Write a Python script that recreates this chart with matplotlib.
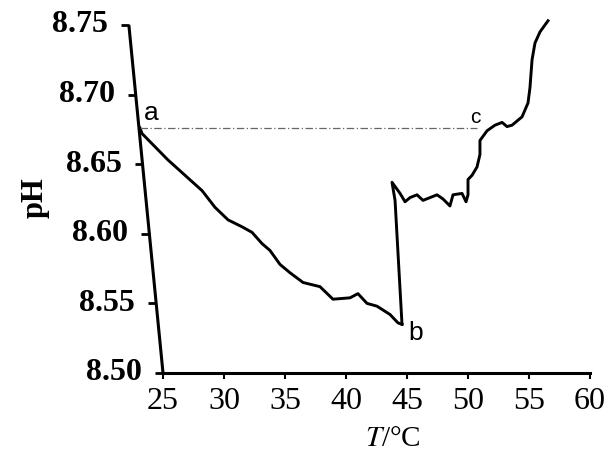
import matplotlib
matplotlib.use("Agg")
import matplotlib.pyplot as plt
import numpy as np

plt.rcParams['mathtext.fontset'] = 'stix'

# cooling branch a -> b
temp_down = [23.11, 23.28, 25.41, 28.20, 29.26, 30.33, 31.48, 32.30, 33.11, 33.77,
             34.59, 35.41, 36.48, 37.87, 38.93, 40.33, 40.98, 41.72, 42.54, 43.61,
             44.26, 44.59]
ph_down = [8.676, 8.672, 8.653, 8.631, 8.619, 8.610, 8.605, 8.601, 8.593, 8.588,
           8.578, 8.572, 8.565, 8.562, 8.553, 8.554, 8.557, 8.550, 8.548, 8.542,
           8.536, 8.535]

# jump after b and the rising branch past c
temp_up = [44.59, 44.02, 43.77, 44.43, 44.84, 45.25, 45.82, 46.31, 46.89, 47.46,
           47.95, 48.52, 48.77, 49.51, 49.84, 50.00, 50.00, 50.33, 50.74, 50.98,
           50.98, 51.56, 52.21, 52.79, 53.20, 53.61, 54.43, 54.92, 55.08, 55.25,
           55.49, 55.90, 56.31, 56.56]
ph_up = [8.535, 8.624, 8.637, 8.629, 8.623, 8.626, 8.628, 8.624, 8.626, 8.628,
         8.625, 8.620, 8.628, 8.629, 8.623, 8.628, 8.639, 8.642, 8.648, 8.657,
         8.667, 8.674, 8.678, 8.680, 8.677, 8.678, 8.684, 8.694, 8.705, 8.725,
         8.737, 8.745, 8.750, 8.753]

x_ticks = [25, 30, 35, 40, 45, 50, 55, 60]
y_ticks = [8.50, 8.55, 8.60, 8.65, 8.70, 8.75]
y_labels = ['8.50', '8.55', '8.60', '8.65', '8.70', '8.75']

# point labels
ph_a = 8.676
temp_a = 23.11
temp_c = 50.7
ph_b = 8.535
temp_b = 44.59

serif = 'Liberation Serif'

fig = plt.figure(figsize=(6.11, 4.58), dpi=100)
ax = fig.add_axes([0.2069, 0.1856, 0.7707, 0.7751])
ax.set_xlim(22, 60.6)
ax.set_ylim(8.50, 8.755)

ax.plot(temp_down, ph_down, color='black', lw=2.1, solid_joinstyle='round')
ax.plot(temp_up, ph_up, color='black', lw=2.1, solid_joinstyle='round')
ax.hlines(ph_a, temp_a, temp_c, colors='#666666', lw=0.9, linestyles=(0, (6, 2, 1, 2)))

ax.text(temp_a + 0.35, ph_a + 0.002, 'a', fontsize=19, family='Liberation Sans',
        ha='left', va='bottom')
ax.text(temp_b + 0.5, ph_b + 0.002, 'b', fontsize=19, family='Liberation Sans',
        ha='left', va='top')
ax.text(temp_c - 0.5, ph_a + 0.001, 'c', fontsize=15, family='Liberation Sans',
        ha='left', va='bottom')

# frame: only a bottom axis from 25 to 60, the pH axis is drawn tilted
for side in ['top', 'right', 'left']:
    ax.spines[side].set_visible(False)
ax.spines['bottom'].set_bounds(25, 60)
ax.spines['bottom'].set_linewidth(2.2)

ax.set_xticks(x_ticks)
ax.set_xticklabels([str(t) for t in x_ticks], family=serif, fontsize=23)
ax.tick_params(axis='x', direction='out', length=4, width=1.5, pad=6)
ax.set_yticks([])

top_T = 22.2
lo, hi = y_ticks[0], y_ticks[-1]
ax.plot([25, top_T], [lo, hi], color='black', lw=2.2, clip_on=False,
        solid_capstyle='butt')
for v, lab in zip(y_ticks, y_labels):
    xs = 25 + (top_T - 25) * (v - lo) / (hi - lo)
    ax.plot(xs, v, marker=0, ms=6, mew=2, color='black', clip_on=False)
    ax.annotate(lab, (xs, v), xytext=(-21, 0), textcoords='offset pixels',
                ha='right', va='center', family=serif, fontweight='bold',
                fontsize=23, annotation_clip=False)

fig.text(35 / 611, 1 - 198 / 458, 'pH', rotation=90, ha='center', va='center',
         family=serif, fontweight='bold', fontsize=22)
fig.text(393 / 611, 1 - 439 / 458, r'$T$/°C', ha='center', va='center',
         family=serif, fontsize=21)

fig.savefig('out.png', dpi=100)
